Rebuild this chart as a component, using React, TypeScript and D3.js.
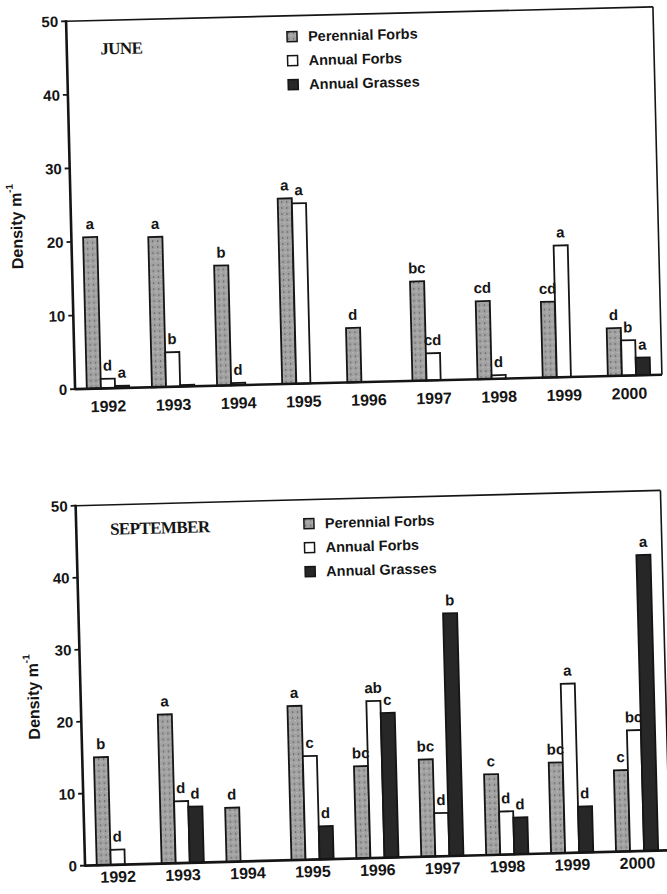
import React from 'react'
import * as d3 from 'd3'

const years = ['1992', '1993', '1994', '1995', '1996', '1997', '1998', '1999', '2000']
const seriesNames = ['Perennial Forbs', 'Annual Forbs', 'Annual Grasses']
const yTicks = [0, 10, 20, 30, 40, 50]

// June densities
const junePerennial = [20.6, 20.4, 16.3, 25.2, 7.4, 13.5, 10.6, 10.3, 6.5]
const juneAnnualForbs = [1.3, 4.7, 0.3, 24.5, 0, 3.7, 0.5, 17.9, 4.8]
const juneAnnualGrasses = [0.3, 0.2, 0, 0, 0, 0, 0, 0, 2.4]
const junePerennialLetters = ['a', 'a', 'b', 'a', 'd', 'bc', 'cd', 'cd', 'd']
const juneAnnualForbsLetters = ['d', 'b', 'd', 'a', '', 'cd', 'd', 'a', 'b']
const juneAnnualGrassesLetters = ['a', '', '', '', '', '', '', '', 'a']

// September densities
const sepPerennial = [15.0, 20.7, 7.5, 21.4, 12.8, 13.5, 11.2, 12.6, 11.3]
const sepAnnualForbs = [2.1, 8.6, 0, 14.4, 21.8, 6.0, 6.0, 23.5, 16.8]
const sepAnnualGrasses = [0, 7.8, 0, 4.6, 20.1, 33.7, 5.1, 6.4, 41.1]
const sepPerennialLetters = ['b', 'a', 'd', 'a', 'bc', 'bc', 'c', 'bc', 'c']
const sepAnnualForbsLetters = ['d', 'd', '', 'c', 'ab', 'd', 'd', 'a', 'bc']
const sepAnnualGrassesLetters = ['', 'd', '', 'd', 'c', 'b', 'd', 'd', 'a']

const sans = 'Liberation Sans, Arial, sans-serif'
const serif = 'Liberation Serif, Times New Roman, serif'
const fills = ['url(#speckle)', '#ffffff', '#272727']
const ink = '#151515'

interface Frame {
  left: number
  right: number
  top: number
  bottom: number
}

interface PanelProps {
  frame: Frame
  angle: number
  title: string
  titleX: number
  titleY: number
  legendX: number
  legendY: number
  yTitleX: number
  yTitleY: number
  yearDy: number
  values: number[][]
  letters: string[][]
}

const Panel: React.FC<PanelProps> = ({
  frame,
  angle,
  title,
  titleX,
  titleY,
  legendX,
  legendY,
  yTitleX,
  yTitleY,
  yearDy,
  values,
  letters,
}) => {
  const xScale = d3
    .scaleBand()
    .domain(years)
    .range([frame.left, frame.right])
    .paddingInner(0.35)
    .paddingOuter(0.18)
  const sub = d3.scaleBand().domain(seriesNames).range([0, xScale.bandwidth()])
  const yScale = d3.scaleLinear().domain([0, 50]).range([frame.bottom, frame.top])
  const cx = (frame.left + frame.right) / 2
  const cy = (frame.top + frame.bottom) / 2

  return (
    <g transform={`rotate(${angle} ${cx} ${cy})`}>
      {/* bars */}
      {seriesNames.map((name, si) =>
        years.map((year, yi) => {
          const v = values[si][yi]
          if (v <= 0) return null
          const x = (xScale(year) as number) + (sub(name) as number)
          return (
            <rect
              key={`${name}-${year}`}
              x={x}
              y={yScale(v)}
              width={sub.bandwidth()}
              height={yScale(0) - yScale(v)}
              fill={fills[si]}
              stroke={ink}
              strokeWidth={1.8}
            />
          )
        })
      )}
      {/* significance letters */}
      {seriesNames.map((name, si) =>
        years.map((year, yi) => {
          const t = letters[si][yi]
          if (!t) return null
          const x = (xScale(year) as number) + (sub(name) as number) + sub.bandwidth() / 2
          return (
            <text
              key={`l-${name}-${year}`}
              x={x}
              y={yScale(values[si][yi]) - 8}
              textAnchor="middle"
              fontFamily={sans}
              fontWeight="bold"
              fontSize={15}
              fill={ink}
            >
              {t}
            </text>
          )
        })
      )}
      {/* frame */}
      <line x1={frame.left} x2={frame.right} y1={frame.top} y2={frame.top} stroke={ink} strokeWidth={1.6} />
      <line x1={frame.right} x2={frame.right} y1={frame.top} y2={frame.bottom} stroke={ink} strokeWidth={1.6} />
      <line x1={frame.left} x2={frame.right} y1={frame.bottom} y2={frame.bottom} stroke={ink} strokeWidth={2.6} />
      <line x1={frame.left} x2={frame.left} y1={frame.top - 1} y2={frame.bottom + 1} stroke={ink} strokeWidth={2.6} />
      {yTicks.map((t) => (
        <g key={t}>
          <line x1={frame.left - 5} x2={frame.left} y1={yScale(t)} y2={yScale(t)} stroke={ink} strokeWidth={1.8} />
          <text
            x={frame.left - 8}
            y={yScale(t)}
            textAnchor="end"
            dominantBaseline="central"
            fontFamily={sans}
            fontWeight="bold"
            fontSize={15}
            fill={ink}
          >
            {t}
          </text>
        </g>
      ))}
      {years.map((year) => (
        <text
          key={year}
          x={(xScale(year) as number) + xScale.bandwidth() / 2}
          y={frame.bottom + yearDy}
          textAnchor="middle"
          dominantBaseline="central"
          fontFamily={sans}
          fontWeight="bold"
          fontSize={16}
          fill={ink}
        >
          {year}
        </text>
      ))}
      <text
        transform={`translate(${yTitleX},${yTitleY}) rotate(-90)`}
        textAnchor="middle"
        dominantBaseline="central"
        fontFamily={sans}
        fontWeight="bold"
        fontSize={16}
        fill={ink}
      >
        Density m
        <tspan fontSize={10} dy={-7}>
          -1
        </tspan>
      </text>
      <text x={titleX} y={titleY} fontFamily={serif} fontWeight="bold" fontSize={17} fill={ink} letterSpacing={-0.6}>
        {title}
      </text>
      {/* legend */}
      {seriesNames.map((name, i) => (
        <g key={name} transform={`translate(${legendX},${legendY + i * 24})`}>
          <rect x={0} y={-5} width={10} height={10} fill={fills[i]} stroke={ink} strokeWidth={1.5} />
          <text x={21} y={0} dominantBaseline="central" fontFamily={sans} fontWeight="bold" fontSize={14.5} fill={ink}>
            {name}
          </text>
        </g>
      ))}
    </g>
  )
}

const App: React.FC = () => {
  return (
    <svg width={667} height={894} style={{ position: 'absolute', left: 0, top: 0, background: '#fff' }}>
      <defs>
        <pattern id="speckle" width={5} height={6} patternUnits="userSpaceOnUse">
          <rect width={5} height={6} fill="#a2a2a2" />
          <rect x={1} y={1} width={1.2} height={2} fill="#6d6d6d" />
          <rect x={3.5} y={4} width={1} height={1.2} fill="#cfcfcf" />
        </pattern>
      </defs>
      <Panel
        frame={{ left: 70.5, right: 657.5, top: 14, bottom: 382 }}
        angle={-1.4}
        title="JUNE"
        titleX={104}
        titleY={48}
        legendX={291}
        legendY={35}
        yTitleX={16}
        yTitleY={218}
        yearDy={18}
        values={[junePerennial, juneAnnualForbs, juneAnnualGrasses]}
        letters={[junePerennialLetters, juneAnnualForbsLetters, juneAnnualGrassesLetters]}
      />
      <Panel
        frame={{ left: 80.25, right: 665.25, top: 498, bottom: 858 }}
        angle={-1.5}
        title="SEPTEMBER"
        titleX={114}
        titleY={528}
        legendX={308}
        legendY={522}
        yTitleX={33}
        yTitleY={688}
        yearDy={12}
        values={[sepPerennial, sepAnnualForbs, sepAnnualGrasses]}
        letters={[sepPerennialLetters, sepAnnualForbsLetters, sepAnnualGrassesLetters]}
      />
    </svg>
  )
}

export default App
